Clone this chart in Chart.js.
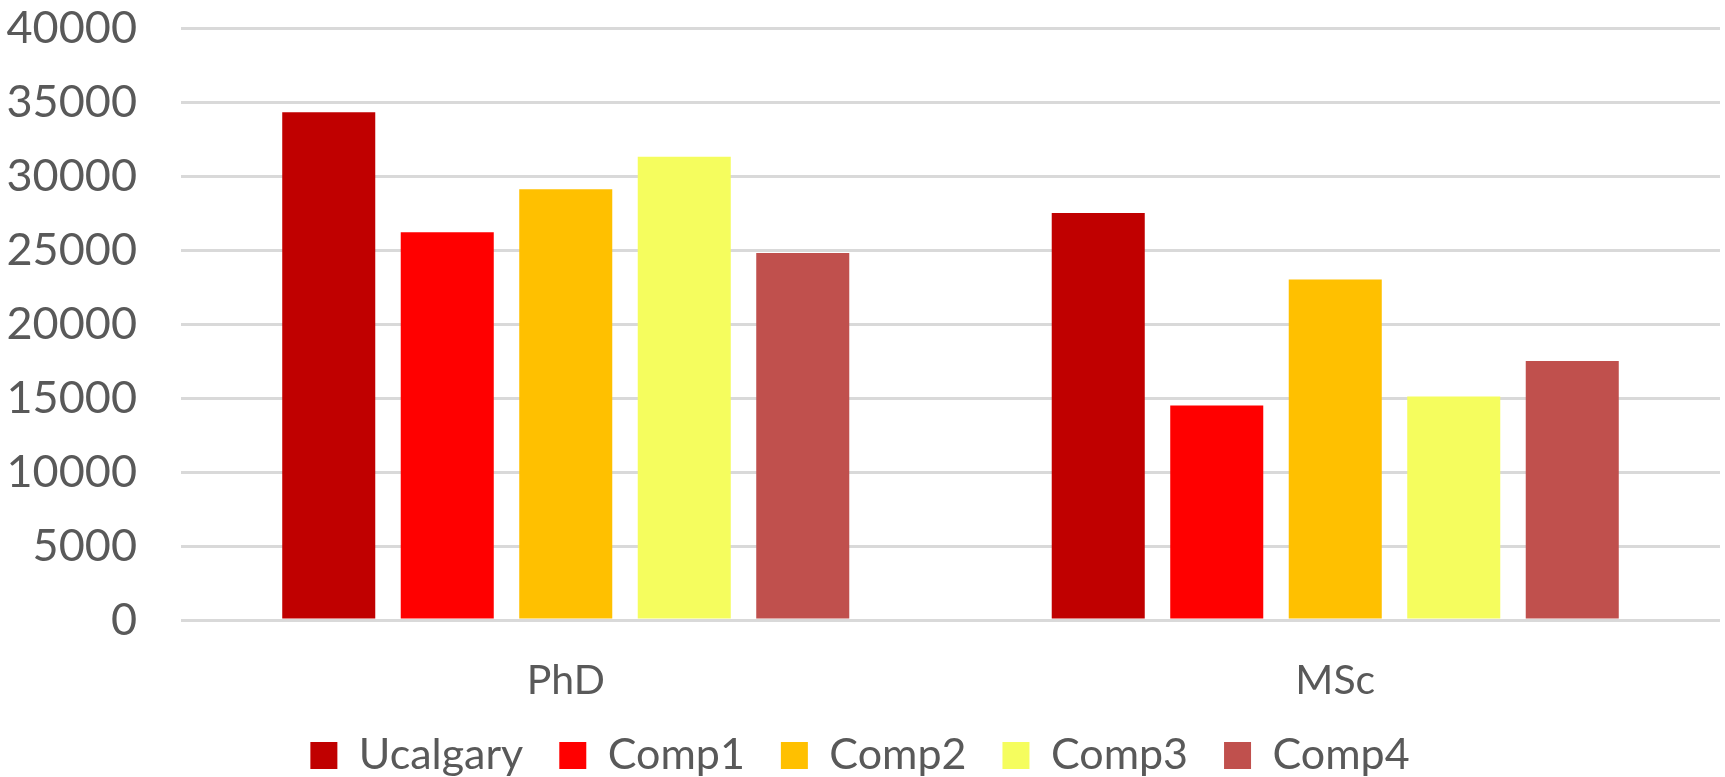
<!DOCTYPE html>
<html lang="en">
<head>
    <meta charset="UTF-8">
    <title>Ucalgary vs comparators</title>
    <script src="https://cdn.jsdelivr.net/npm/chart.js"></script>
    <style>
        body {
            margin: 0;
            background: #fff;
            font-family: Lato, Arial, sans-serif;
        }
        #wrap {
            width: 1725px;
            height: 777px;
            position: relative;
        }
    </style>
</head>
<body>
<div id="wrap"><canvas id="chart"></canvas></div>
<script>
    // data
    const categories = ['PhD', 'MSc'];
    const seriesNames = ['Ucalgary', 'Comp1', 'Comp2', 'Comp3', 'Comp4'];
    const ucalgary = [34300, 27500];
    const comp1 = [26200, 14500];
    const comp2 = [29100, 23000];
    const comp3 = [31300, 15100];
    const comp4 = [24800, 17500];
    const yTicks = [0, 5000, 10000, 15000, 20000, 25000, 30000, 35000, 40000];

    const colors = ['#C00000', '#FF0000', '#FFC000', '#F5FD5E', '#C0504D'];
    const values = [ucalgary, comp1, comp2, comp3, comp4];

    const textColor = '#595959';

    const chart = new Chart(document.getElementById('chart'), {
        type: 'bar',
        data: {
            labels: categories,
            datasets: seriesNames.map((name, i) => ({
                label: name,
                data: values[i],
                backgroundColor: colors[i],
                borderWidth: 0,
                categoryPercentage: 0.77,
                barPercentage: 0.785
            }))
        },
        options: {
            responsive: true,
            maintainAspectRatio: false,
            animation: false,
            devicePixelRatio: 1,
            layout: {
                padding: { top: 0, right: 5, left: 0, bottom: -10 }
            },
            plugins: {
                tooltip: { enabled: false },
                legend: {
                    position: 'bottom',
                    labels: {
                        color: textColor,
                        font: { family: 'Lato', size: 43 },
                        boxWidth: 27,
                        boxHeight: 27,
                        padding: 36
                    }
                }
            },
            scales: {
                x: {
                    grid: { display: false },
                    border: { display: false },
                    afterFit: (scale) => {
                        scale.height = 78;
                    },
                    ticks: {
                        color: textColor,
                        font: { family: 'Lato', size: 41 },
                        padding: 28
                    }
                },
                y: {
                    min: 0,
                    max: 40000,
                    afterBuildTicks: (scale) => {
                        scale.ticks = yTicks.map(v => ({ value: v }));
                    },
                    afterFit: (scale) => {
                        scale.width = 181;
                        scale.paddingTop = 28;
                        scale.paddingBottom = 0;
                    },
                    grid: {
                        color: '#D9D9D9',
                        lineWidth: 3,
                        drawTicks: false
                    },
                    border: { display: false },
                    ticks: {
                        color: textColor,
                        font: { family: 'Lato', size: 45 },
                        padding: 44,
                        callback: (v) => String(v)
                    }
                }
            }
        }
    });
</script>
</body>
</html>
